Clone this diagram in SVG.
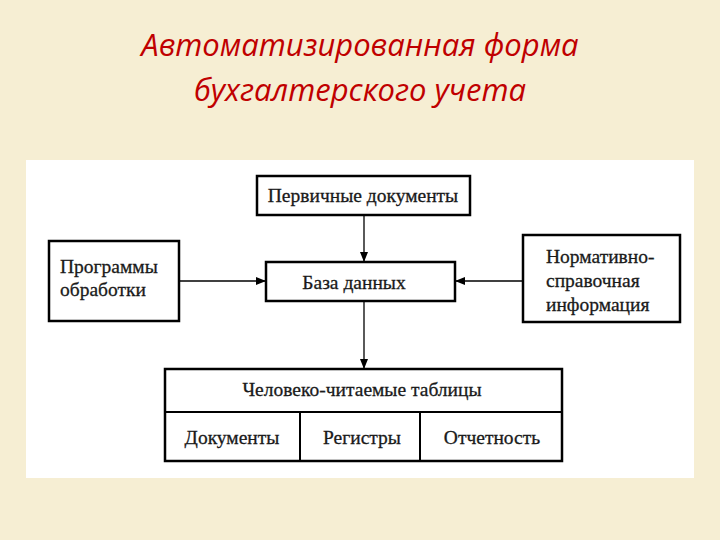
<svg xmlns="http://www.w3.org/2000/svg" width="720" height="540" viewBox="0 0 720 540">
<defs>
<marker id="ah" markerWidth="10" markerHeight="10" refX="9" refY="5" orient="auto" markerUnits="userSpaceOnUse"><path d="M0,1 L10,5 L0,9 Z" fill="#000"/></marker>
<style>
.b{fill:#fff;stroke:#000;stroke-width:2.5}
.t{font-family:"Liberation Serif",serif;font-size:19.5px;fill:#1a1a1a;stroke:#1a1a1a;stroke-width:0.3}
.c{stroke:#000;stroke-width:1.3;fill:none;marker-end:url(#ah)}
.h{font-family:"Open Sans","DejaVu Sans",sans-serif;font-style:italic;font-size:31px;fill:#c00000;text-anchor:middle}
</style>
</defs>
<rect width="720" height="540" fill="#f6eed3"/>
<text class="h" x="360" y="56">Автоматизированная форма</text>
<text class="h" x="360" y="101">бухгалтерского учета</text>
<rect x="26" y="160" width="668" height="318" fill="#fff"/>
<g id="connectors">
<line class="c" x1="364" y1="216" x2="364" y2="261"/>
<line class="c" x1="180" y1="281" x2="265" y2="281"/>
<line class="c" x1="522" y1="281" x2="456" y2="281"/>
<line class="c" x1="364" y1="302" x2="364" y2="368"/>
</g>
<g id="primary"><rect class="b" x="257" y="176" width="213" height="39"/><text class="t" x="363" y="202" text-anchor="middle">Первичные документы</text></g>
<g id="programs"><rect class="b" x="49" y="241" width="130" height="80"/><text class="t" x="60" y="273">Программы</text><text class="t" x="60" y="296">обработки</text></g>
<g id="db"><rect class="b" x="266" y="262" width="189" height="39"/><text class="t" x="354" y="289" text-anchor="middle">База данных</text></g>
<g id="normative"><rect class="b" x="523" y="235" width="157" height="87"/><text class="t" x="546" y="263">Нормативно-</text><text class="t" x="546" y="287">справочная</text><text class="t" x="546" y="311">информация</text></g>
<g id="tables"><rect class="b" x="165" y="369" width="397" height="92"/>
<line x1="165" y1="412" x2="562" y2="412" stroke="#000" stroke-width="2"/>
<line x1="300" y1="412" x2="300" y2="461" stroke="#000" stroke-width="2"/>
<line x1="420" y1="412" x2="420" y2="461" stroke="#000" stroke-width="2"/>
<text class="t" x="362" y="396" text-anchor="middle">Человеко-читаемые таблицы</text>
<text class="t" x="232" y="444" text-anchor="middle">Документы</text>
<text class="t" x="362" y="444" text-anchor="middle">Регистры</text>
<text class="t" x="492" y="444" text-anchor="middle">Отчетность</text></g>
</svg>
